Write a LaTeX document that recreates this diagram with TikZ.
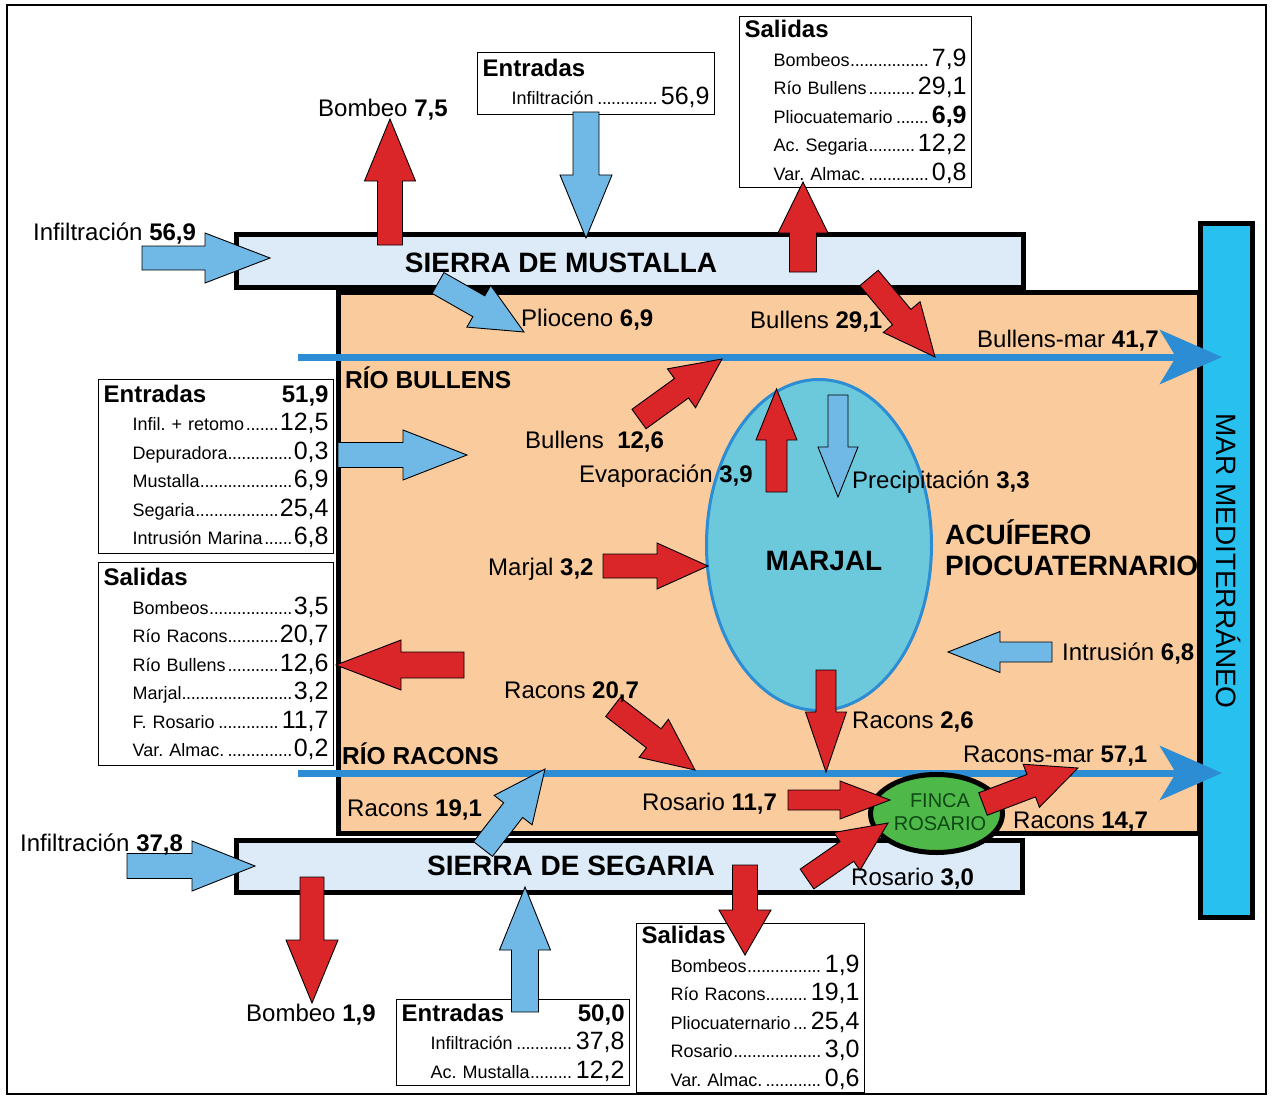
\documentclass[tikz,border=0pt]{standalone}
\usepackage{fontspec}
\setmainfont{Liberation Sans}
\usetikzlibrary{calc, shapes.geometric, arrows.meta}
\frenchspacing

\definecolor{rojo}{RGB}{218,37,41}
\definecolor{azulclaro}{RGB}{112,184,230}
\definecolor{azulrio}{RGB}{44,140,212}
\definecolor{sierrac}{RGB}{221,235,248}
\definecolor{naranja}{RGB}{249,203,157}
\definecolor{marc}{RGB}{40,192,238}
\definecolor{marjalc}{RGB}{108,201,219}
\definecolor{fincac}{RGB}{78,184,72}
\definecolor{fincatxt}{RGB}{14,72,22}

% filas de las tablas de balance
\newcommand{\puntos}{\leaders\hbox to 4.6pt{\hss.\hss}\hfill}
\newcommand{\num}[1]{{\fontsize{25}{28.5}\selectfont #1}}
\newcommand{\cabecera}[2]{{\fontsize{24}{28.5}\selectfont\bfseries #1\hfill #2}}
\newcommand{\fila}[2]{\hspace*{29pt}#1\puntos\num{#2}}

% flecha gruesa: cola, punta, medio ancho cuerpo, medio ancho cabeza, largo cabeza, color
\newcommand{\flecha}[6]{%
  \coordinate (fcola) at (#1);
  \coordinate (fpunta) at (#2);
  \coordinate (fcuello) at ($(fpunta)!#5pt!(fcola)$);
  \filldraw[bloque, fill=#6]
    ($(fcola)!#3pt!90:(fpunta)$) -- ($(fcuello)!#3pt!90:(fpunta)$)
    -- ($(fcuello)!#4pt!90:(fpunta)$) -- (fpunta)
    -- ($(fcuello)!#4pt!-90:(fpunta)$) -- ($(fcuello)!#3pt!-90:(fpunta)$)
    -- ($(fcola)!#3pt!-90:(fpunta)$) -- cycle;
}

\begin{document}
\begin{tikzpicture}[x=1pt, y=-1pt,
    bloque/.style={draw=black, line width=0.9pt},
    caja/.style={draw=black, line width=5pt, inner sep=0pt},
    infobox/.style={draw=black, line width=1.2pt, fill=white, anchor=north west, inner xsep=5pt, inner ysep=3pt, align=left, font=\fontsize{18}{28.5}\selectfont},
    etiq/.style={anchor=base west, inner sep=0pt, font=\fontsize{24}{28}\selectfont},
    rotulo/.style={anchor=base west, inner sep=0pt, font=\fontsize{24.5}{28}\selectfont\bfseries},
    titulo/.style={anchor=base, inner sep=0pt, font=\fontsize{28}{32}\selectfont\bfseries},
    rio/.style={line width=7pt, draw=azulrio, -{Stealth[length=62pt, width=54pt, inset=16pt]}}
  ]
  \useasboundingbox (0,0) rectangle (1272,1097);
  \draw[line width=1.8pt] (7,5) rectangle (1266,1094);

  % acuiferos y mar
  \node[caja, fill=naranja, minimum width=861, minimum height=541] (plio) at (768.5,563) {};
  \node[caja, fill=sierrac, minimum width=787, minimum height=53] (mustalla) at (630,261) {};
  \node[caja, fill=sierrac, minimum width=786, minimum height=52] (segaria) at (629.5,866.5) {};
  \node[caja, fill=marc, minimum width=52, minimum height=694] (mar) at (1226.5,570.5) {};

  % rios
  \draw[rio] (298,357) -- (1222,357);
  \draw[rio] (298,773) -- (1222,773);

  \node[ellipse, draw=azulrio, line width=3pt, fill=marjalc, minimum width=225, minimum height=331] (marjal) at (819,545) {};
  \node[ellipse, draw=black, line width=5pt, fill=fincac, minimum width=132, minimum height=78] (finca) at (936.5,813.5) {};

  % tablas de balance
  \node[infobox, text width=227, minimum height=62] (entM) at (477,52)
    {\cabecera{Entradas}{}\\ \fila{Infiltración}{56,9}};
  \node[infobox, text width=222, minimum height=171] (salM) at (739,16)
    {\cabecera{Salidas}{}\\ \fila{Bombeos}{7,9}\\ \fila{Río Bullens}{29,1}\\
     \fila{Pliocuatemario}{\textbf{6,9}}\\ \fila{Ac. Segaria}{12,2}\\ \fila{Var. Almac.}{0,8}};
  \node[infobox, text width=225, minimum height=174] (entP) at (98,379)
    {\cabecera{Entradas}{51,9}\\ \fila{Infil. + retomo}{12,5}\\ \fila{Depuradora}{0,3}\\
     \fila{Mustalla}{6,9}\\ \fila{Segaria}{25,4}\\ \fila{Intrusión Marina}{6,8}};
  \node[infobox, text width=225, minimum height=203] (salP) at (98,562)
    {\cabecera{Salidas}{}\\ \fila{Bombeos}{3,5}\\ \fila{Río Racons}{20,7}\\ \fila{Río Bullens}{12,6}\\
     \fila{Marjal}{3,2}\\ \fila{F. Rosario}{11,7}\\ \fila{Var. Almac.}{0,2}};
  \node[infobox, text width=223, minimum height=86] (entS) at (396,999)
    {\cabecera{Entradas}{50,0}\\ \fila{Infiltración}{37,8}\\ \fila{Ac. Mustalla}{12,2}};
  \node[infobox, text width=218, minimum height=166] (salS) at (636,923)
    {\cabecera{Salidas}{}\\ \fila{Bombeos}{1,9}\\ \fila{Río Racons}{19,1}\\
     \fila{Pliocuaternario}{25,4}\\ \fila{Rosario}{3,0}\\ \fila{Var. Almac.}{0,6}};

  % flujos de salida
  \flecha{390,245}{390,119}{12.5}{25.5}{62}{rojo}
  \flecha{803,272}{803,182}{13.5}{25}{51}{rojo}
  \flecha{869,278}{935,357}{12}{24}{52}{rojo}
  \flecha{639,419}{722,359}{12}{24}{50}{rojo}
  \flecha{776.5,492}{776.5,389}{10.5}{20.5}{51}{rojo}
  \flecha{603,566}{708,566}{12}{23}{51}{rojo}
  \flecha{464,665}{336,665}{13}{25}{65}{rojo}
  \flecha{613,707}{695,770}{12}{24}{52}{rojo}
  \flecha{826,670}{826,772}{10}{20.5}{60}{rojo}
  \flecha{788,800}{890,800}{10}{19}{50}{rojo}
  \flecha{983,804}{1078,768}{12}{23}{50}{rojo}
  \flecha{807,879}{888,823}{12}{23}{50}{rojo}
  \flecha{312,877}{312,1003}{12}{26}{63}{rojo}
  \flecha{745,865}{745,955}{12.5}{26}{45}{rojo}

  % flujos de entrada
  \flecha{586,112}{586,238}{13}{26}{63}{azulclaro}
  \flecha{142,258}{270,258}{12}{25}{65}{azulclaro}
  \flecha{438,283}{524,332}{12}{24}{52}{azulclaro}
  \flecha{338,455}{467,455}{12.5}{25}{64}{azulclaro}
  \flecha{838,395}{838,497}{10}{20}{50}{azulclaro}
  \flecha{1052,652}{948,652}{10}{20.5}{52}{azulclaro}
  \flecha{483,849}{545,769}{12}{24}{52}{azulclaro}
  \flecha{127,866}{255,866}{12.5}{25}{63}{azulclaro}
  \flecha{525,1012}{525,887}{13.5}{25.5}{63}{azulclaro}

  % rotulos
  \node[titulo] (tmustalla) at (561,272) {SIERRA DE MUSTALLA};
  \node[titulo] (tsegaria) at (571,875) {SIERRA DE SEGARIA};
  \node[titulo] (tmarjal) at (824,570) {MARJAL};
  \node[titulo, anchor=base west] (tacuif) at (945,544) {ACUÍFERO};
  \node[titulo, anchor=base west] (tpiocuat) at (945,575) {PIOCUATERNARIO};
  \node[rotulo] (rbullens) at (345,388) {RÍO BULLENS};
  \node[rotulo] (rracons) at (342,764) {RÍO RACONS};
  \node[rotate=-90, font=\fontsize{28}{32}\selectfont] (tmar) at (1228,561) {MAR MEDITERRÁNEO};
  \node[align=center, inner sep=0pt, text=fincatxt, font=\fontsize{20}{23}\selectfont] (tfinca) at (940,812) {FINCA\\ROSARIO};

  % caudales
  \node[etiq] (lbombeoM) at (318,117) {Bombeo \textbf{7,5}};
  \node[etiq] (linfM) at (33,240) {Infiltración \textbf{56,9}};
  \node[etiq] (lplioceno) at (521,326) {Plioceno \textbf{6,9}};
  \node[etiq] (lbullens1) at (750,328) {Bullens \textbf{29,1}};
  \node[etiq] (lbullensmar) at (977,347) {Bullens-mar \textbf{41,7}};
  \node[etiq] (lbullens2) at (525,448) {Bullens~~\textbf{12,6}};
  \node[etiq] (levap) at (579,482) {Evaporación \textbf{3,9}};
  \node[etiq] (lprecip) at (852,488) {Precipitación \textbf{3,3}};
  \node[etiq] (lmarjal) at (488,575) {Marjal \textbf{3,2}};
  \node[etiq] (lintrusion) at (1062,660) {Intrusión \textbf{6,8}};
  \node[etiq] (lracons1) at (504,698) {Racons \textbf{20,7}};
  \node[etiq] (lracons2) at (852,728) {Racons \textbf{2,6}};
  \node[etiq] (lraconsmar) at (963,762) {Racons-mar \textbf{57,1}};
  \node[etiq] (lracons3) at (347,816) {Racons \textbf{19,1}};
  \node[etiq] (lrosario1) at (642,810) {Rosario \textbf{11,7}};
  \node[etiq] (lracons4) at (1013,828) {Racons \textbf{14,7}};
  \node[etiq] (linfS) at (20,851) {Infiltración \textbf{37,8}};
  \node[etiq] (lrosario2) at (851,885) {Rosario \textbf{3,0}};
  \node[etiq] (lbombeoS) at (246,1021) {Bombeo \textbf{1,9}};
\end{tikzpicture}
\end{document}
